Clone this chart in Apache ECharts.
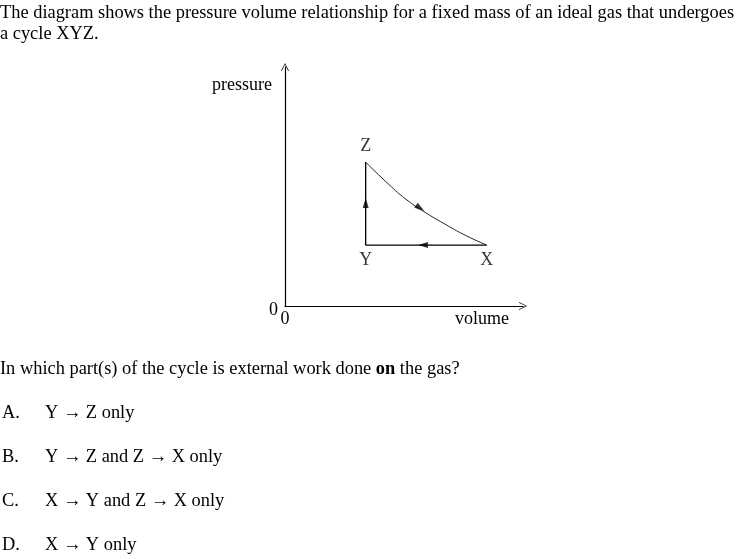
<!DOCTYPE html>
<html><head><meta charset="utf-8">
<script src="https://cdn.jsdelivr.net/npm/echarts@6/dist/echarts.min.js"></script>
<style>html,body{margin:0;padding:0;background:#fff}#c{width:741px;height:559px}</style>
</head><body><div id="c"></div>
<script>
// vertices of the cycle
var vertexNames = ['X', 'Y', 'Z'];
var vertexVolume = [5.0, 2.0, 2.0];
var vertexPressure = [2.0, 2.0, 4.72];
// curve Z -> X
var curveVolume = [2.0, 2.5, 3.0, 3.5, 4.0, 4.5, 5.0];
var curvePressure = [4.72, 4.08, 3.5, 3.05, 2.66, 2.3, 2.0];
// direction arrows on the paths
var arrowVolume = [2.0, 3.42, 3.35];
var arrowPressure = [3.38, 2.0, 3.21];
var arrowRotate = [0, 90, -125];
var axisNames = ['volume', 'pressure'];
var textLines = [
  'The diagram shows the pressure volume relationship for a fixed mass of an ideal gas that undergoes',
  'a cycle XYZ.',
  'In which part(s) of the cycle is external work done on the gas?'
];
var optionLetters = ['A.', 'B.', 'C.', 'D.'];
var optionTexts = ['Y \u2192 Z only', 'Y \u2192 Z and Z \u2192 X only', 'X \u2192 Y and Z \u2192 X only', 'X \u2192 Y only'];

var FONT = '"Liberation Serif", "Times New Roman", serif';
var FS = 18.4;
var chart = echarts.init(document.getElementById('c'));

var straight = [[vertexVolume[0], vertexPressure[0]], [vertexVolume[1], vertexPressure[1]], [vertexVolume[2], vertexPressure[2]]];
var curve = curveVolume.map(function (v, i) { return [v, curvePressure[i]]; });
var arrows = arrowVolume.map(function (v, i) { return { value: [v, arrowPressure[i]], symbolRotate: arrowRotate[i] }; });
var vertices = vertexVolume.map(function (v, i) {
  var top = vertexNames[i] === 'Z';
  return { value: [v, vertexPressure[i]], name: vertexNames[i],
    label: { position: top ? 'top' : 'bottom', distance: 6 } };
});

var chevron = 'path://M0,10 L5,0 L10,10 L9,10 L5,1.8 L1,10 Z';

function txt(left, top, text, size) {
  return { type: 'text', left: left, top: top, style: { text: text, font: (size || FS) + 'px ' + FONT, fill: '#000' } };
}
var graphics = [];
graphics.push(txt(0, 4, textLines[0]));
graphics.push(txt(0, 25, textLines[1]));
graphics.push({ type: 'text', left: 0, top: 360, style: {
  rich: { b: { fontWeight: 'bold', fontFamily: FONT, fontSize: FS }, n: { fontFamily: FONT, fontSize: FS } },
  text: '{n|In which part(s) of the cycle is external work done }{b|on}{n| the gas?}', fill: '#000' } });
optionLetters.forEach(function (l, i) {
  graphics.push(txt(2, 404 + i * 44, l));
  graphics.push(txt(45, 404 + i * 44, optionTexts[i]));
});
graphics.push(txt(212, 76, axisNames[1], 18));
graphics.push(txt(455, 310, axisNames[0], 18));

chart.setOption({
  animation: false,
  backgroundColor: '#fff',
  grid: { left: 285, top: 67, right: 218, bottom: 253, containLabel: false },
  xAxis: {
    type: 'value', min: 0, max: 5.9, interval: 5.9,
    axisLine: { lineStyle: { color: '#000', width: 1.2 }, symbol: ['none', chevron], symbolSize: [8, 8] },
    axisTick: { show: false }, splitLine: { show: false },
    axisLabel: { margin: 4, color: '#000', fontFamily: FONT, fontSize: 18, showMaxLabel: false,
      formatter: function (v) { return v === 0 ? '0' : ''; } }
  },
  yAxis: {
    type: 'value', min: 0, max: 7.84, interval: 7.84,
    axisLine: { show: true, lineStyle: { color: '#000', width: 1.2 }, symbol: ['none', chevron], symbolSize: [8, 8] },
    axisTick: { show: false }, splitLine: { show: false },
    axisLabel: { margin: 7, color: '#000', fontFamily: FONT, fontSize: 18, showMaxLabel: false,
      rich: { z: { fontFamily: FONT, fontSize: 18, color: '#000', padding: [8, 0, 0, 0] } },
      formatter: function (v) { return v === 0 ? '{z|0}' : ''; } }
  },
  graphic: graphics,
  series: [
    { type: 'line', data: straight, symbol: 'none', lineStyle: { color: '#000', width: 1.3 }, z: 2 },
    { type: 'line', data: curve, smooth: true, symbol: 'none', lineStyle: { color: '#222', width: 1 }, z: 2 },
    { type: 'scatter', data: arrows, symbol: 'triangle', symbolSize: [6, 10], itemStyle: { color: '#000' }, z: 3 },
    { type: 'scatter', data: vertices, symbolSize: 1, itemStyle: { color: 'rgba(0,0,0,0)' },
      label: { show: true, formatter: '{b}', color: '#000', fontFamily: FONT, fontSize: 18 }, z: 4 }
  ]
});
</script></body></html>
